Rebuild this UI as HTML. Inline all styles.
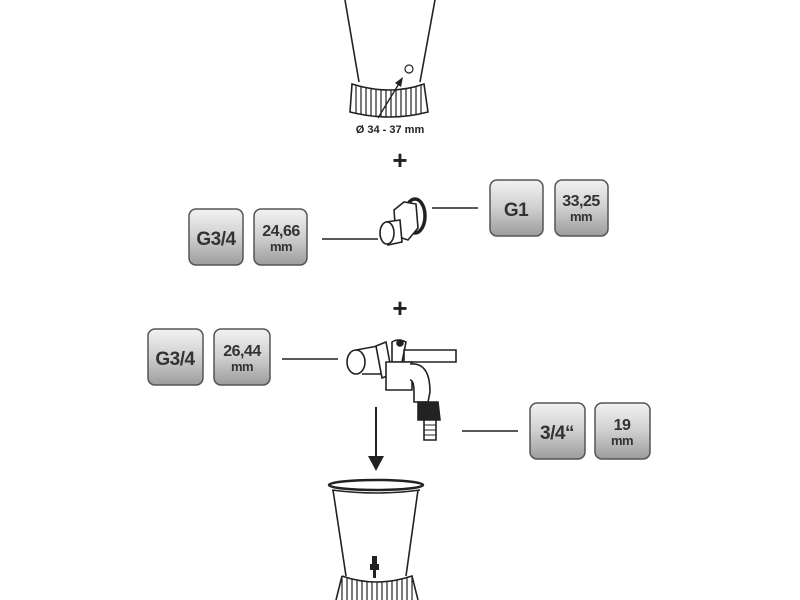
<!DOCTYPE html>
<html><head><style>
body{margin:0;background:#fff;}
svg{display:block;font-family:"Liberation Sans",sans-serif;font-weight:bold;}
</style></head><body>
<svg width="800" height="600" viewBox="0 0 800 600">
<defs>
<linearGradient id="g" x1="0" y1="0" x2="0" y2="1">
<stop offset="0" stop-color="#f2f2f2"/><stop offset="0.5" stop-color="#cfcfcf"/><stop offset="1" stop-color="#9c9c9c"/>
</linearGradient>
<clipPath id="b1"><path d="M352 84 Q390 96 424 84 L428 112 Q390 122 350 112 Z"/></clipPath>
<clipPath id="b2"><path d="M342 576 Q376 588 412 576 L418 600 L336 600 Z"/></clipPath>
</defs>
<g fill="none" stroke="#222" stroke-width="1.6">
<path d="M345 0 L359 82 M435 0 L420 82"/>
<path d="M352 84 Q390 96 424 84 L428 112 Q390 122 350 112 Z"/>
<g clip-path="url(#b1)" stroke-width="1.2">
<path d="M356 80V120M361 80V120M366 80V120M371 80V120M376 80V120M381 80V120M386 80V120M391 80V120M396 80V120M401 80V120M406 80V120M411 80V120M416 80V120M421 80V120"/>
</g>
<circle cx="409" cy="69" r="4" stroke-width="1.2"/>
<path d="M378 118 L400 82" stroke-width="1.4"/>
</g>
<path d="M403 77 L395 83 L401 87 Z" fill="#222"/>
<text x="390" y="133" font-size="11" text-anchor="middle" fill="#222">Ø 34 - 37 mm</text>
<text x="400" y="169" font-size="26" text-anchor="middle" fill="#222">+</text>
<text x="400" y="317" font-size="26" text-anchor="middle" fill="#222">+</text>
<g stroke="#555" stroke-width="1.5" fill="url(#g)">
<rect x="189" y="209" width="54" height="56" rx="7"/>
<rect x="254" y="209" width="53" height="56" rx="7"/>
<rect x="490" y="180" width="53" height="56" rx="7"/>
<rect x="555" y="180" width="53" height="56" rx="7"/>
<rect x="148" y="329" width="55" height="56" rx="7"/>
<rect x="214" y="329" width="56" height="56" rx="7"/>
<rect x="530" y="403" width="55" height="56" rx="7"/>
<rect x="595" y="403" width="55" height="56" rx="7"/>
</g>
<g fill="#333" text-anchor="middle" letter-spacing="-0.5">
<text x="216" y="245" font-size="19">G3/4</text>
<text x="281" y="236" font-size="16">24,66</text><text x="281" y="251" font-size="13">mm</text>
<text x="516" y="216" font-size="19">G1</text>
<text x="581" y="206" font-size="16">33,25</text><text x="581" y="221" font-size="13">mm</text>
<text x="175" y="365" font-size="19">G3/4</text>
<text x="242" y="356" font-size="16">26,44</text><text x="242" y="371" font-size="13">mm</text>
<text x="557" y="439" font-size="19">3/4“</text>
<text x="622" y="430" font-size="16">19</text><text x="622" y="445" font-size="13">mm</text>
</g>
<g stroke="#222" stroke-width="1.6" fill="none">
<path d="M322 239H378 M432 208H478 M282 359H338 M462 431H518"/>
<!-- fitting -->
<ellipse cx="415" cy="216" rx="10" ry="17" stroke-width="3.5"/>
<path d="M394 210 L404 202 L416 204 L418 228 L408 240 L396 236 Z" fill="#fff"/>
<path d="M386 222 L400 220 L402 242 L388 245 Z" fill="#fff"/>
<ellipse cx="387" cy="233" rx="7" ry="11" fill="#fff"/>
<!-- tap -->
<ellipse cx="356" cy="362" rx="9" ry="12" fill="#fff"/>
<path d="M356 350 L378 346 L386 374 L362 374"/>
<path d="M376 346 L386 342 L392 374 L382 378 Z" fill="#fff"/>
<path d="M392 342 Q398 338 406 342 L402 362 L392 362 Z" fill="#fff"/>
<circle cx="400" cy="343" r="3" fill="#222"/>
<path d="M404 350 L456 350 L456 362 L404 362 Z" fill="#fff"/>
<path d="M386 362 L412 362 L412 390 L386 390 Z" fill="#fff"/>
<path d="M410 364 Q430 362 430 392 L428 402 L414 402 L414 392 Q414 380 410 380" fill="#fff"/>
<path d="M418 402 L438 402 L440 420 L418 420 Z" fill="#222"/>
<path d="M424 420 L436 420 L436 440 L424 440 Z" fill="#fff"/>
<path d="M424 425H436M424 430H436M424 435H436" stroke-width="1"/>
<path d="M376 407 V458" stroke-width="2"/>
</g>
<path d="M368 456 L384 456 L376 471 Z" fill="#222"/>
<g stroke="#222" stroke-width="1.6" fill="none">
<ellipse cx="376" cy="485" rx="47" ry="5" stroke-width="2.5"/>
<path d="M332 490 Q376 496 420 490" />
<path d="M333 490 L346 576 M418 490 L406 576"/>
<path d="M342 576 Q376 588 412 576 L418 600 M336 600 L342 576"/>
<g clip-path="url(#b2)" stroke-width="1.2">
<path d="M342 570V600M347 570V600M352 570V600M357 570V600M362 570V600M367 570V600M372 570V600M377 570V600M382 570V600M387 570V600M392 570V600M397 570V600M402 570V600M407 570V600M412 570V600"/>
</g>
</g>
<path d="M372 556 h5 v8 h2 v6 h-3 v8 h-3 v-8 h-3 v-6 h2 z" fill="#222"/>
</svg>
</body></html>
